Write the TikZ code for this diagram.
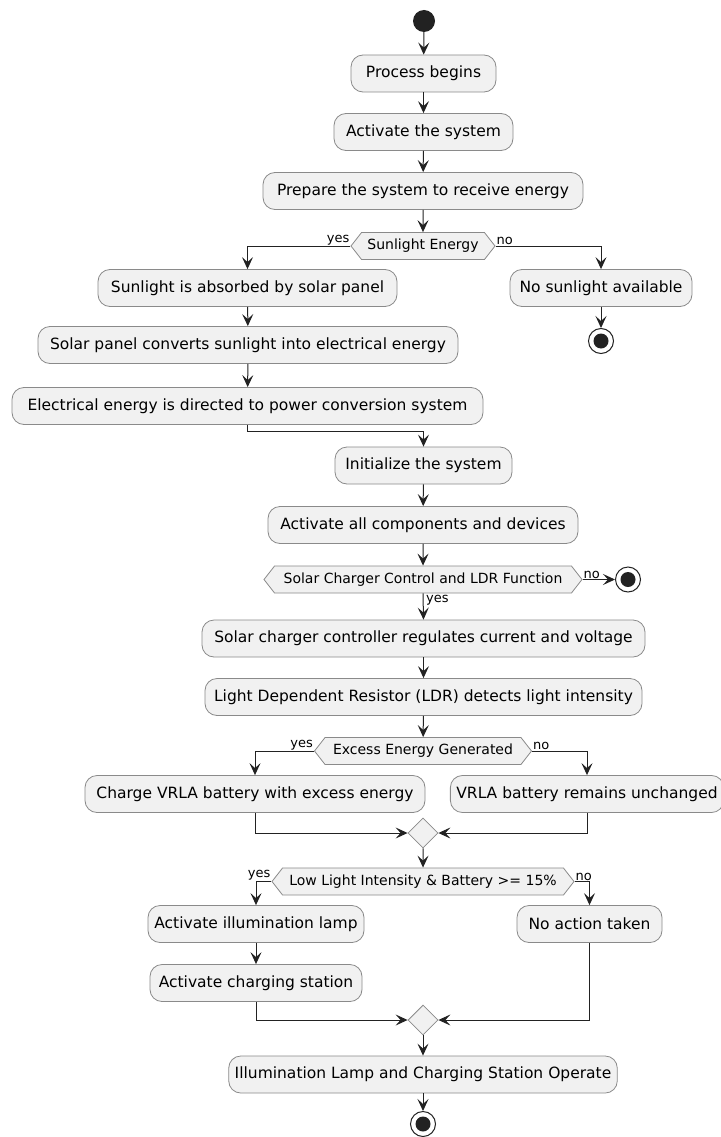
\documentclass[tikz,border=0pt]{standalone}
\usepackage{fontspec}
\setmainfont{DejaVu Sans}
\usetikzlibrary{arrows.meta,shapes.geometric,shapes.symbols,calc}
\definecolor{boxfill}{HTML}{F1F1F1}
\definecolor{boxline}{HTML}{8A8A8A}
\definecolor{lncol}{HTML}{222222}
\begin{document}
\begin{tikzpicture}[x=1pt,y=-1pt,
  act/.style={rectangle, rounded corners=12pt, draw=boxline, fill=boxfill, line width=0.8pt, minimum height=37pt, inner xsep=6pt, font=\fontsize{15.5}{18}\selectfont},
  hexa/.style={signal, signal to=west and east, signal pointer angle=104, draw=boxline, fill=boxfill, line width=0.8pt, minimum height=27pt, inner xsep=2pt, inner ysep=0pt, font=\fontsize{14}{16}\selectfont},
  merge/.style={diamond, draw=boxline, fill=boxfill, line width=0.8pt, minimum width=30pt, minimum height=30pt, inner sep=0pt},
  startnode/.style={circle, fill=lncol, minimum size=22pt, inner sep=0pt},
  endnode/.style={circle, draw=lncol, line width=1pt, fill=white, minimum size=25pt, inner sep=0pt, path picture={\fill[lncol] (path picture bounding box.center) circle (7.5pt);}},
  arr/.style={draw=lncol, line width=1pt, -{Stealth[length=12pt,width=11pt,inset=5pt]}},
  plainline/.style={draw=lncol, line width=1pt},
  lbl/.style={font=\fontsize{13}{15}\selectfont, inner sep=1pt}
]
\fill[white] (0,0) rectangle (720,1137);
\useasboundingbox (0,0) rectangle (720,1137);

\node[startnode] (s) at (424,21) {};
\node[act, minimum width=145pt] (p1) at (423.5,73.5) {Process begins};
\node[act, minimum width=179pt] (p2) at (423.5,132) {Activate the system};
\node[act, minimum width=320pt] (p3) at (423,191) {Prepare the system to receive energy};
\node[hexa, minimum width=144pt] (d1) at (423,246) {Sunlight Energy};
\node[act, minimum width=299pt] (p4) at (247.5,288) {Sunlight is absorbed by solar panel};
\node[act, minimum width=182pt] (p5) at (601,288) {No sunlight available};
\node[endnode] (e1) at (601,341) {};
\node[act, minimum width=420pt] (p6) at (248,345) {Solar panel converts sunlight into electrical energy};
\node[act, minimum width=471pt] (p7) at (247.5,406) {Electrical energy is directed to power conversion system};
\coordinate (j1) at (423.5,431);
\node[act, minimum width=177pt] (p8) at (423.5,465.5) {Initialize the system};
\node[act, minimum width=310pt] (p9) at (423,525) {Activate all components and devices};
\node[hexa, minimum width=318pt] (d2) at (423,579.5) {Solar Charger Control and LDR Function};
\node[endnode] (e2) at (628,579.5) {};
\node[act, minimum width=443pt] (p10) at (423.5,638.5) {Solar charger controller regulates current and voltage};
\node[act, minimum width=437pt] (p11) at (423.5,697) {Light Dependent Resistor (LDR) detects light intensity};
\node[hexa, minimum width=217pt] (d3) at (423,751) {Excess Energy Generated};
\node[act, minimum width=340pt] (p12) at (255,794) {Charge VRLA battery with excess energy};
\node[act, minimum width=266pt] (p13) at (587,794) {VRLA battery remains unchanged};
\node[merge] (m1) at (423,833) {};
\node[hexa, minimum width=302pt] (d4) at (423,881.5) {Low Light Intensity \& Battery >= 15\%};
\node[act, minimum width=216pt] (p14) at (256,924) {Activate illumination lamp};
\node[act, minimum width=212pt] (p15) at (256,983) {Activate charging station};
\node[act, minimum width=145pt] (p16) at (589.5,924) {No action taken};
\node[merge] (m2) at (423,1020) {};
\node[act, minimum width=388pt] (p17) at (423,1074.5) {Illumination Lamp and Charging Station Operate};
\node[endnode] (e3) at (423,1124) {};

\draw[arr] (s) -- (p1);
\draw[arr] (p1) -- (p2);
\draw[arr] (p2) -- (p3);
\draw[arr] (p3) -- (d1);
\draw[arr] (d1.west) -| (p4.north);
\draw[arr] (d1.east) -| (p5.north);
\node[lbl, anchor=south east] (l1) at (d1.west) {yes};
\node[lbl, anchor=south west] (l2) at (d1.east) {no};
\draw[arr] (p5) -- (e1);
\draw[arr] (p4) -- (p6);
\draw[arr] (p6) -- (p7);
\draw[plainline] (p7.south) -- (p7.south |- j1) -- (j1);
\draw[arr] (j1) -- (p8.north);
\draw[arr] (p8) -- (p9);
\draw[arr] (p9) -- (d2);
\draw[arr] (d2.east) -- (e2);
\node[lbl, anchor=south west] (l3) at (d2.east) {no};
\draw[arr] (d2.south) -- (p10.north);
\node[lbl, anchor=north west] (l4) at ($(d2.south)+(2,1)$) {yes};
\draw[arr] (p10) -- (p11);
\draw[arr] (p11) -- (d3);
\draw[arr] (d3.west) -| (p12.north);
\draw[arr] (d3.east) -| (p13.north);
\node[lbl, anchor=south east] (l5) at (d3.west) {yes};
\node[lbl, anchor=south west] (l6) at (d3.east) {no};
\draw[arr] (p12.south) |- (m1.west);
\draw[arr] (p13.south) |- (m1.east);
\draw[arr] (m1) -- (d4);
\draw[arr] (d4.west) -| (p14.north);
\draw[arr] (d4.east) -| (p16.north);
\node[lbl, anchor=south east] (l7) at (d4.west) {yes};
\node[lbl, anchor=south west] (l8) at (d4.east) {no};
\draw[arr] (p14) -- (p15);
\draw[arr] (p15.south) |- (m2.west);
\draw[arr] (p16.south) |- (m2.east);
\draw[arr] (m2) -- (p17);
\draw[arr] (p17) -- (e3);
\end{tikzpicture}
\end{document}
